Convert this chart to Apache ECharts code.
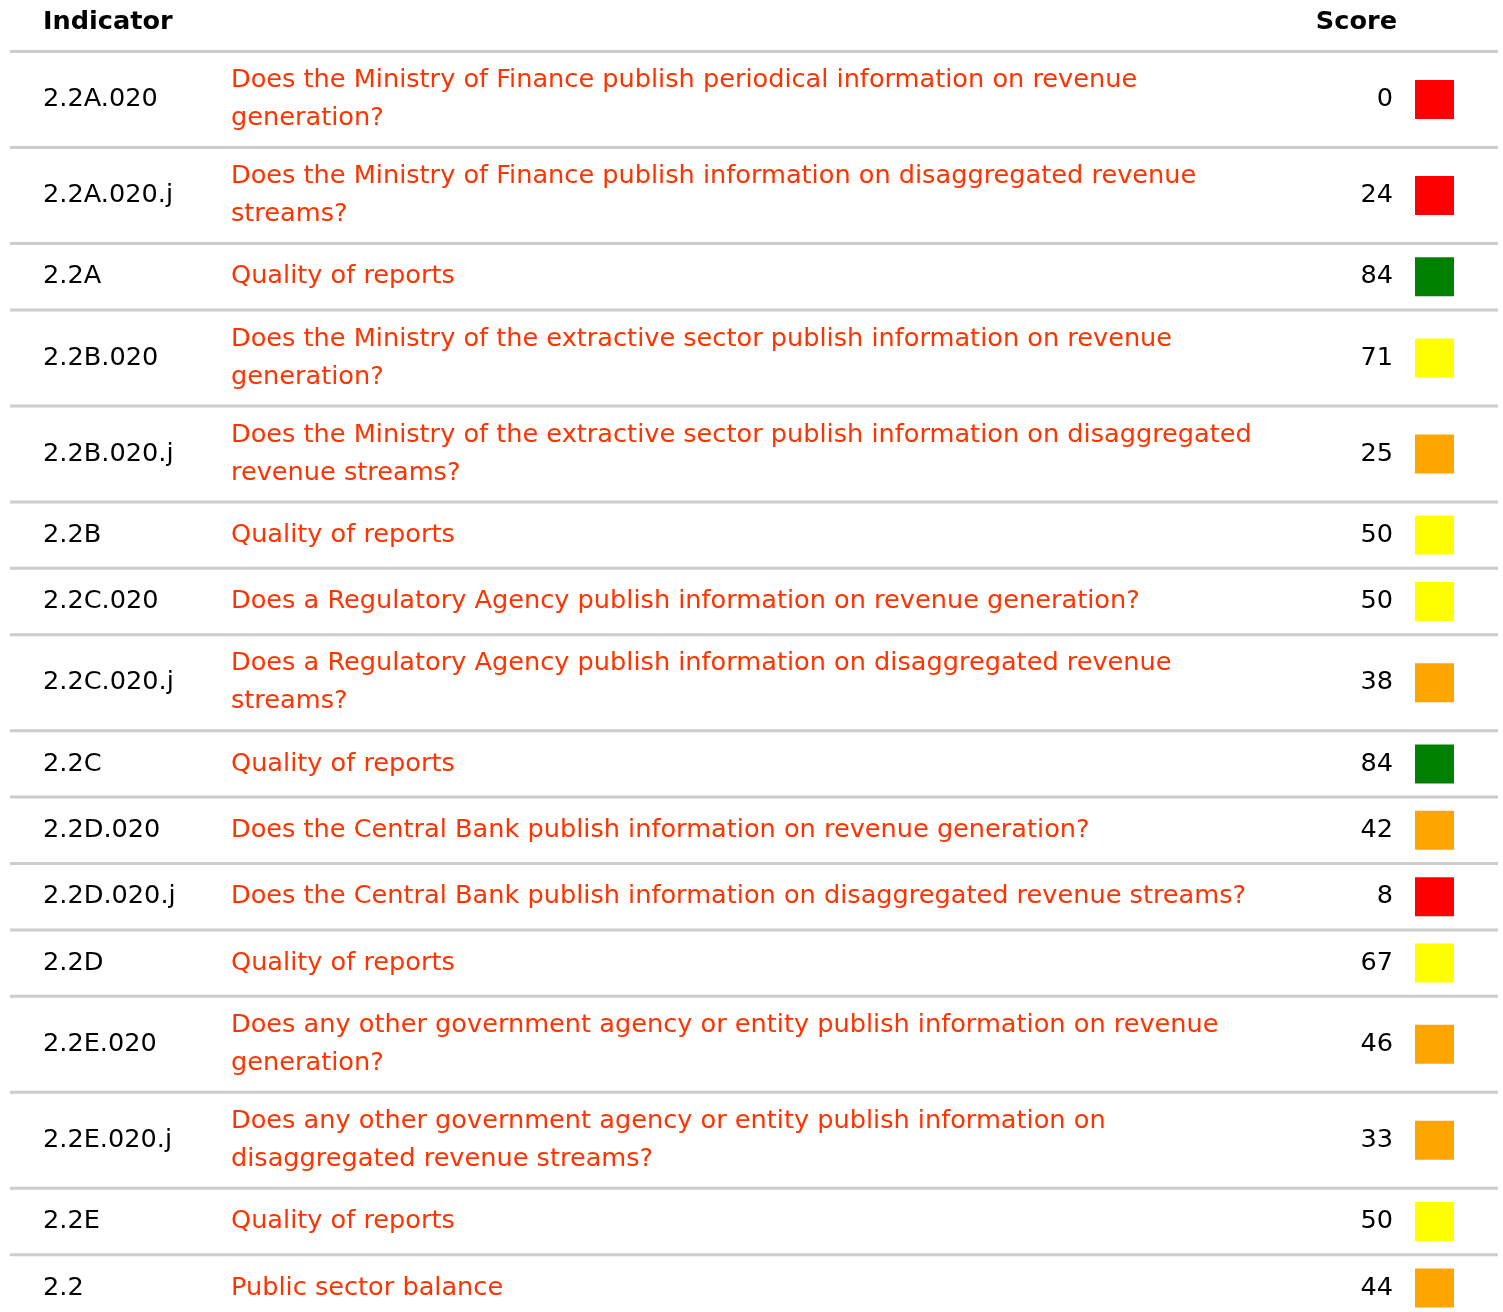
<!DOCTYPE html>
<html>
<head>
<meta charset="utf-8">
<script src="https://cdn.jsdelivr.net/npm/echarts@6/dist/echarts.min.js"></script>
<style>
html,body{margin:0;padding:0;background:#fff;}
#chart{width:1503px;height:1312px;}
</style>
</head>
<body>
<div id="chart"></div>
<script>
const headers = ['Indicator', 'Score'];
const codes = ['2.2A.020','2.2A.020.j','2.2A','2.2B.020','2.2B.020.j','2.2B','2.2C.020','2.2C.020.j','2.2C','2.2D.020','2.2D.020.j','2.2D','2.2E.020','2.2E.020.j','2.2E','2.2'];
const questions = [
  'Does the Ministry of Finance publish periodical information on revenue\ngeneration?',
  'Does the Ministry of Finance publish information on disaggregated revenue\nstreams?',
  'Quality of reports',
  'Does the Ministry of the extractive sector publish information on revenue\ngeneration?',
  'Does the Ministry of the extractive sector publish information on disaggregated\nrevenue streams?',
  'Quality of reports',
  'Does a Regulatory Agency publish information on revenue generation?',
  'Does a Regulatory Agency publish information on disaggregated revenue\nstreams?',
  'Quality of reports',
  'Does the Central Bank publish information on revenue generation?',
  'Does the Central Bank publish information on disaggregated revenue streams?',
  'Quality of reports',
  'Does any other government agency or entity publish information on revenue\ngeneration?',
  'Does any other government agency or entity publish information on\ndisaggregated revenue streams?',
  'Quality of reports',
  'Public sector balance'
];
const scores = [0,24,84,71,25,50,50,38,84,42,8,67,46,33,50,44];
const statusColors = ['red','red','green','yellow','orange','yellow','yellow','orange','green','orange','red','yellow','orange','orange','yellow','orange'];

const palette = {red:'#ff0000', green:'#008000', yellow:'#ffff00', orange:'#ffa500'};
const FONT = '"DejaVu Sans", Verdana, sans-serif';
const FS = '25.6px ';
const W = 1503, H = 1312;
const HEADER_BOTTOM = 50;
const SINGLE_H = 66.4, DOUBLE_H = 96;

// compute row tops from line counts
const rows = [];
let y = HEADER_BOTTOM;
for (let i = 0; i < codes.length; i++) {
  const lines = questions[i].split('\n').length;
  const h = lines > 1 ? DOUBLE_H : SINGLE_H;
  rows.push([y, y + h, i]);
  y += h;
}

const chart = echarts.init(document.getElementById('chart'), null, {renderer:'canvas'});
chart.setOption({
  animation: false,
  backgroundColor: '#fff',
  grid: {left:0, right:0, top:0, bottom:0},
  xAxis: {type:'value', min:0, max:W, show:false},
  yAxis: {type:'value', min:0, max:H, inverse:true, show:false},
  series: [{
    type: 'custom',
    coordinateSystem: 'cartesian2d',
    data: [[0, HEADER_BOTTOM, -1]].concat(rows),
    renderItem: function (params, api) {
      const top = api.coord([0, api.value(0)])[1];
      const bottom = api.coord([0, api.value(1)])[1];
      const idx = api.value(2);
      const x0 = api.coord([10, 0])[0], x1 = api.coord([1498, 0])[0];
      const line = {type:'rect', shape:{x:x0, y:bottom, width:x1 - x0, height:3}, style:{fill:'#cccccc'}};
      if (idx < 0) {
        const hy = api.coord([0, 22])[1];
        return {type:'group', children:[
          line,
          {type:'text', x:api.coord([43,0])[0], y:hy, style:{text:headers[0], font:'bold ' + FS + FONT, fill:'#000', textAlign:'left', verticalAlign:'middle'}},
          {type:'text', x:api.coord([1397,0])[0], y:hy, style:{text:headers[1], font:'bold ' + FS + FONT, fill:'#000', textAlign:'right', verticalAlign:'middle'}}
        ]};
      }
      const cy = (top + 3 + bottom) / 2;
      const sq = 39;
      return {type:'group', children:[
        line,
        {type:'text', x:api.coord([43,0])[0], y:cy, style:{text:codes[idx], font:FS + FONT, fill:'#000', textAlign:'left', verticalAlign:'middle'}},
        {type:'text', x:api.coord([231,0])[0], y:cy, style:{text:questions[idx], font:FS + FONT, lineHeight:38, fill:'#ff3300', textAlign:'left', verticalAlign:'middle'}},
        {type:'text', x:api.coord([1393,0])[0], y:cy, style:{text:String(scores[idx]), font:FS + FONT, fill:'#000', textAlign:'right', verticalAlign:'middle'}},
        {type:'rect', shape:{x:api.coord([1415,0])[0], y:cy - sq/2, width:sq, height:sq}, style:{fill:palette[statusColors[idx]]}}
      ]};
    }
  }]
});
</script>
</body>
</html>
